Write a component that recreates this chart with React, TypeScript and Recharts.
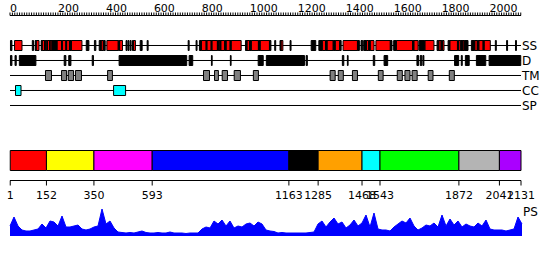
import React from 'react';
import { ComposedChart, AreaChart, Area, XAxis, YAxis, ReferenceArea } from 'recharts';

const seqLength = 2131;
const rows = ['SS', 'D', 'TM', 'CC', 'SP'];
const topAxisLabels = [0, 200, 400, 600, 800, 1000, 1200, 1400, 1600, 1800, 2000];

type Seg = [number, number];

const ssRed: Seg[] = [
  [19, 50], [109, 121], [134, 144], [147, 154], [156, 165], [167, 175], [196, 215], [218, 233], [236, 248], [256, 300],
  [380, 389], [404, 451], [457, 469], [514, 523], [798, 818], [821, 839], [842, 865], [871, 876], [879, 895], [901, 918],
  [922, 964], [988, 999], [1006, 1036], [1043, 1082], [1130, 1138], [1302, 1316], [1322, 1348], [1356, 1375], [1389, 1449],
  [1486, 1496], [1502, 1518], [1526, 1586], [1611, 1679], [1684, 1702], [1730, 1768], [1788, 1798], [1803, 1810],
  [1834, 1866], [1871, 1880], [1889, 1896], [1938, 1949], [1955, 1973], [1977, 2003],
];

const ssBlack: Seg[] = [
  [2, 8], [93, 98], [105, 109], [130, 134], [144, 147], [154, 156], [165, 167], [175, 196], [215, 218], [233, 236],
  [248, 256], [318, 329], [352, 358], [372, 380], [390, 397], [452, 457], [484, 488], [492, 496], [501, 505], [511, 514],
  [543, 551], [572, 576], [743, 747], [776, 780], [790, 798], [818, 821], [839, 842], [865, 871], [876, 879], [895, 901],
  [918, 922], [982, 988], [999, 1006], [1036, 1043], [1082, 1088], [1104, 1108], [1126, 1130], [1168, 1172], [1256, 1275],
  [1288, 1302], [1316, 1322], [1348, 1356], [1375, 1381], [1449, 1457], [1464, 1471], [1475, 1486], [1496, 1502],
  [1586, 1593], [1600, 1611], [1679, 1684], [1706, 1730], [1781, 1788], [1798, 1803], [1827, 1834], [1866, 1871],
  [1880, 1889], [1896, 1910], [1924, 1938], [1949, 1955], [1973, 1977], [2024, 2028], [2071, 2075], [2108, 2112],
];

const dSegs: Seg[] = [
  [2, 8], [21, 26], [39, 108], [226, 233], [245, 254], [343, 348], [455, 737], [747, 762], [840, 843], [919, 922],
  [1035, 1056], [1069, 1228], [1235, 1240], [1386, 1392], [1407, 1410], [1515, 1521], [1560, 1575], [1697, 1704],
  [1711, 1717], [1722, 1726], [1854, 1871], [1882, 1886], [1899, 1915], [1945, 1984], [1998, 2130],
];

const tmSegs: Seg[] = [
  [148, 173], [215, 236], [243, 265], [273, 298], [407, 427], [807, 832], [853, 869], [885, 907], [935, 961],
  [1015, 1036], [1335, 1356], [1369, 1390], [1428, 1449], [1536, 1556], [1615, 1636], [1647, 1668], [1677, 1698],
  [1744, 1764], [1832, 1853],
];

const ccSegs: Seg[] = [[23, 46], [432, 482]];

const domainStarts = [1, 152, 350, 593, 1163, 1285, 1468, 1543, 1872, 2041];
const domainEnds = [152, 350, 593, 1163, 1285, 1468, 1543, 1872, 2041, 2131];
const domainColors = ['#ff0000', '#ffff00', '#ff00ff', '#0000ff', '#000000', '#ffa000', '#00ffff', '#00ff00', '#b4b4b4', '#aa00ff'];
const domainTicks = [1, 152, 350, 593, 1163, 1285, 1468, 1543, 1872, 2041, 2131];

const psValues = [
  10, 19, 10, 6, 5, 5, 6, 7, 12, 8, 15, 14, 10, 20, 9, 9, 10, 11, 7, 6,
  7, 9, 10, 27, 12, 15, 8, 4, 3.5, 3, 3.5, 3, 4, 5, 3.5, 3, 3, 3.5, 3, 3,
  4, 3, 3, 3, 2.5, 3, 3, 3, 7, 9, 8, 15, 12, 16, 10, 15, 8, 10, 9, 12,
  13, 10, 14, 12, 6, 5, 4.5,
  3, 3.5, 3, 3, 3, 3, 3, 3, 3.5, 4, 12, 15, 9, 14, 18, 12, 14, 8, 11, 16,
  10, 13, 21, 9, 23, 7, 6, 6, 5, 9, 12, 15, 13, 18, 10, 6, 8, 11, 10, 13,
  9, 21, 10, 17, 11, 15, 9, 12, 10, 9, 13, 10, 16, 7, 6, 6, 6, 5, 6, 7,
  19, 12,
];

const FONT = 'DejaVu Sans';
const BOX_HALF = 1 / 3;
const minorTicks = Array.from({ length: 214 }, (_, i) => i * 10);

const TopTick = (props: any) => {
  const { x, y, payload } = props;
  if (!topAxisLabels.includes(payload.value)) return <g />;
  return (
    <text x={x} y={y} textAnchor="start" fontSize={11} fontFamily={FONT} fill="#000">
      {payload.value}
    </text>
  );
};

const boxes = (segs: Seg[], row: number, fill: string, prefix: string) =>
  segs.map(([s, e], k) => (
    <ReferenceArea
      key={`${prefix}${k}`}
      x1={s}
      x2={e}
      y1={row - BOX_HALF}
      y2={row + BOX_HALF}
      fill={fill}
      fillOpacity={1}
      stroke="#000"
      strokeWidth={1}
      ifOverflow="visible"
    />
  ));

export default function App() {
  const rowData = [
    { pos: 0, row: 0, lvl: 0 },
    { pos: seqLength, row: rows.length - 1, lvl: 1 },
  ];
  const psData = psValues.map((v, i) => ({ i, ps: v }));
  return (
    <div style={{ position: 'absolute', left: 0, top: 0, width: 550, height: 260, background: '#fff', overflow: 'hidden' }}>
      <div style={{ position: 'absolute', left: 0, top: 0 }}>
        <ComposedChart width={550} height={125} data={rowData} margin={{ top: 0.5, right: 0, left: 10, bottom: 4.5 }}>
          <XAxis
            dataKey="pos"
            type="number"
            orientation="top"
            domain={[0, seqLength]}
            allowDataOverflow
            ticks={minorTicks}
            interval={0}
            height={15}
            tickSize={3}
            tickMargin={1}
            axisLine={{ stroke: '#000' }}
            tickLine={{ stroke: '#000' }}
            tick={(p: any) => <TopTick {...p} />}
          />
          <YAxis
            dataKey="row"
            type="number"
            orientation="right"
            domain={[-2, 5]}
            allowDataOverflow
            reversed
            ticks={[0, 1, 2, 3, 4]}
            interval={0}
            tickFormatter={(v: number) => rows[v] ?? ''}
            width={29}
            axisLine={false}
            tickLine={false}
            tickSize={0}
            tickMargin={1}
            tick={{ fontSize: 12, fill: '#000', fontFamily: FONT }}
          />
          {rows.map((r, i) => (
            <ReferenceArea
              key={`line${r}`}
              x1={0}
              x2={seqLength}
              y1={i - 0.0005}
              y2={i + 0.0005}
              fill="none"
              stroke="#000"
              strokeWidth={1}
              ifOverflow="visible"
            />
          ))}
          {boxes(ssRed, 0, '#ff0000', 'ssr')}
          {boxes(ssBlack, 0, '#000000', 'ssb')}
          {boxes(dSegs, 1, '#000000', 'd')}
          {boxes(tmSegs, 2, '#808080', 'tm')}
          {boxes(ccSegs, 3, '#00ffff', 'cc')}
        </ComposedChart>
      </div>
      <div style={{ position: 'absolute', left: 0, top: 140 }}>
        <ComposedChart width={550} height={62} data={rowData} margin={{ top: 10.5, right: 29, left: 10, bottom: 0 }}>
          <XAxis
            dataKey="pos"
            type="number"
            domain={[0, seqLength]}
            allowDataOverflow
            ticks={domainTicks}
            interval={0}
            height={21.5}
            tickSize={5}
            tickMargin={6}
            axisLine={{ stroke: '#000' }}
            tickLine={{ stroke: '#000' }}
            tick={{ fontSize: 11, fill: '#000', fontFamily: FONT }}
          />
          <YAxis dataKey="lvl" hide type="number" domain={[-0.5, 1]} allowDataOverflow />
          {domainStarts.map((s, k) => (
            <ReferenceArea
              key={`dom${k}`}
              x1={s}
              x2={domainEnds[k]}
              y1={0}
              y2={1}
              fill={domainColors[k]}
              fillOpacity={1}
              stroke="#000"
              strokeWidth={1}
              ifOverflow="visible"
            />
          ))}
        </ComposedChart>
      </div>
      <div style={{ position: 'absolute', left: 0, top: 200 }}>
        <AreaChart width={550} height={40} data={psData} margin={{ top: 6, right: 0, left: 10, bottom: 4 }}>
          <XAxis dataKey="i" hide />
          <YAxis
            orientation="right"
            domain={[0, 30]}
            allowDataOverflow
            width={28}
            tick={false}
            axisLine={false}
            tickLine={false}
            label={{ value: 'PS', position: 'insideTopLeft', offset: 1, fontSize: 12, fill: '#000', fontFamily: FONT }}
          />
          <Area
            dataKey="ps"
            type="linear"
            stroke="#0000ff"
            strokeWidth={1}
            fill="#0000ff"
            fillOpacity={1}
            dot={false}
            activeDot={false}
            isAnimationActive={false}
          />
        </AreaChart>
      </div>
    </div>
  );
}
